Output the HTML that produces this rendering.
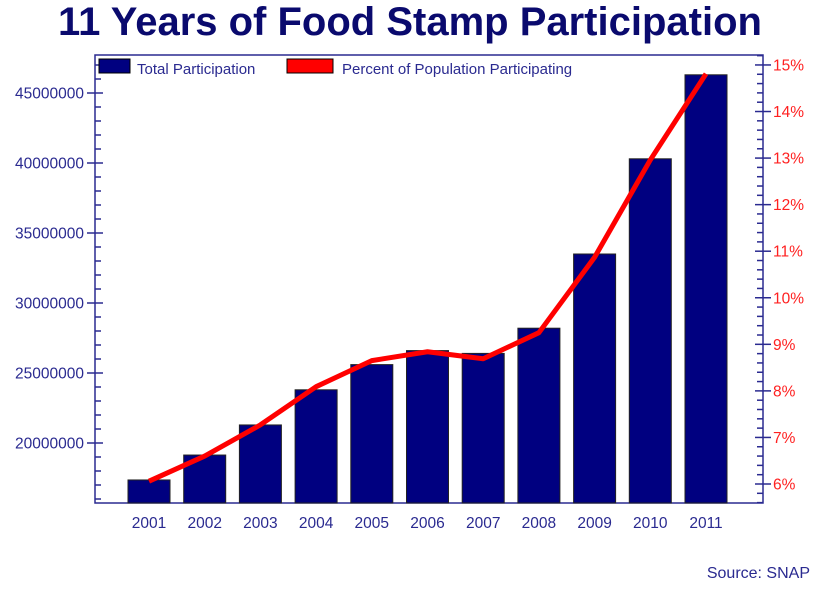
<!DOCTYPE html>
<html><head><meta charset="utf-8"><style>
body{margin:0;background:#fff;}
svg{display:block;font-family:"Liberation Sans",Arial,sans-serif;}
</style></head><body>
<svg id="chart" width="819" height="592" viewBox="0 0 819 592">
<text x="410" y="35" text-anchor="middle" font-size="40" font-weight="bold" fill="#0a0a6e">11 Years of Food Stamp Participation</text>
<rect x="95" y="55" width="668" height="448" fill="none" stroke="#2a2a90" stroke-width="1.5"/>
<g id="bars"></g><g id="line"></g><g id="axes"></g>
<g>
<rect x="99" y="59" width="31" height="14" fill="#000080" stroke="#000" stroke-width="1"/>
<text x="137" y="74" font-size="15" fill="#2a2a90">Total Participation</text>
<rect x="287" y="59" width="46" height="14" fill="#ff0000" stroke="#000" stroke-width="1"/>
<text x="342" y="74" font-size="15" fill="#2a2a90">Percent of Population Participating</text>
</g>
<text x="810" y="578" text-anchor="end" font-size="16" fill="#2a2a90">Source: SNAP</text>
</svg>
<script>
const years=["2001","2002","2003","2004","2005","2006","2007","2008","2009","2010","2011"];
const participation=[17.36,19.14,21.29,23.8,25.6,26.6,26.4,28.2,33.5,40.3,46.3];
const percent=[6.06,6.6,7.27,8.09,8.65,8.84,8.69,9.25,10.87,12.96,14.81];
const leftTicks=[20000000,25000000,30000000,35000000,40000000,45000000];
const rightTicks=[6,7,8,9,10,11,12,13,14,15];
const NS="http://www.w3.org/2000/svg";
function el(t,a,p){const e=document.createElementNS(NS,t);for(const k in a)e.setAttribute(k,a[k]);p.appendChild(e);return e;}
const yL=v=>443-(v-20)*14; // millions
const yR=p=>484-(p-6)*46.56;
const xC=i=>149+i*55.7;
const bars=document.getElementById('bars'),line=document.getElementById('line'),axes=document.getElementById('axes');
participation.forEach((v,i)=>{
 const r=el('rect',{x:xC(i)-21,y:yL(v),width:42,height:503-yL(v),fill:'#000080',stroke:'#222',"stroke-width":1},bars);
 
 
 const t=el('text',{x:xC(i),y:528,"text-anchor":"middle","font-size":15.5,fill:'#2a2a90'},axes);t.textContent=years[i];
 
 
});
const pl=el('polyline',{points:percent.map((p,i)=>xC(i)+','+yR(p)).join(' '),fill:'none',stroke:'#ff0000',"stroke-width":5,"stroke-linejoin":"round"},line);


for(let m=16;m<=47;m++){const y=yL(m);el('line',{x1:95,x2:m%5==0?87:101,y1:y,y2:y,stroke:'#2a2a90',"stroke-width":1.5},axes);if(m%5==0)el('line',{x1:95,x2:103,y1:y,y2:y,stroke:'#2a2a90',"stroke-width":1.5},axes);}
leftTicks.forEach(v=>{const t=el('text',{x:84,y:yL(v/1e6)+5.5,"text-anchor":"end","font-size":15.5,fill:'#2a2a90'},axes);t.textContent=v;
 
 });
for(let k=28;k<=76;k++){const p=k/5,y=yR(p);if(y<55||y>503)continue;const maj=k%5==0;el('line',{x1:maj?755:757,x2:maj?771:763,y1:y,y2:y,stroke:'#2a2a90',"stroke-width":1.5},axes);}
rightTicks.forEach(p=>{const t=el('text',{x:773,y:yR(p)+5.5,"font-size":15.5,fill:'#ff2020'},axes);t.textContent=p+'%';
 
 });
</script>
</body></html>
